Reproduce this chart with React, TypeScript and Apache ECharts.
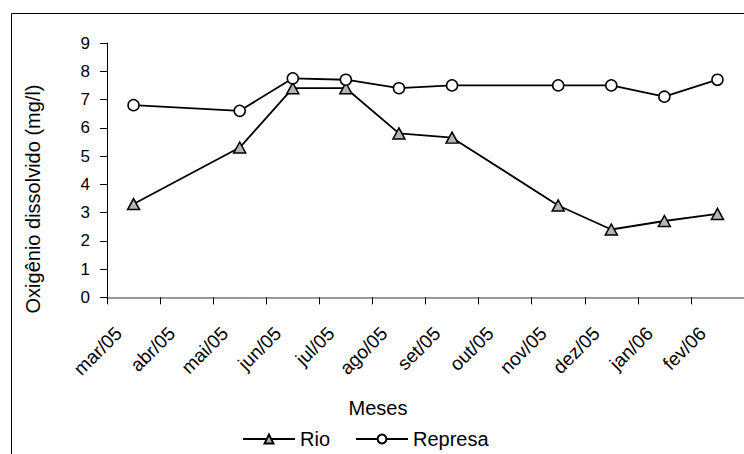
import React, { useEffect, useRef } from "react";
import * as echarts from "echarts";

// Monthly dissolved-oxygen readings (mg/l); null = no sample that month
const months = [
  "mar/05", "abr/05", "mai/05", "jun/05", "jul/05", "ago/05",
  "set/05", "out/05", "nov/05", "dez/05", "jan/06", "fev/06",
];
const rio = [3.3, null, 5.3, 7.4, 7.4, 5.8, 5.65, null, 3.25, 2.4, 2.7, 2.95];
const represa = [6.8, null, 6.6, 7.75, 7.7, 7.4, 7.5, null, 7.5, 7.5, 7.1, 7.7];
const yTicks = { min: 0, max: 9, interval: 1 };

const FONT = "'Liberation Sans', Arial, Helvetica, sans-serif";

export default function App() {
  const ref = useRef<HTMLDivElement>(null);

  useEffect(() => {
    if (!ref.current) return;
    const chart = echarts.init(ref.current, undefined, { renderer: "svg" });

    chart.setOption({
      animation: false,
      backgroundColor: "#ffffff",
      textStyle: { fontFamily: FONT, color: "#000" },
      grid: { left: 107, top: 43, width: 649, height: 254.3, containLabel: false },
      xAxis: {
        type: "category",
        data: months,
        boundaryGap: true,
        axisLine: { lineStyle: { color: "#777", width: 1.5 } },
        axisTick: { show: true, length: 7, lineStyle: { color: "#000", width: 1 } },
        axisLabel: {
          rotate: 45,
          interval: 0,
          margin: 18,
          fontSize: 19,
          fontFamily: FONT,
          color: "#000",
          padding: [0, 21, 0, 0],
        },
        splitLine: { show: false },
      },
      yAxis: {
        type: "value",
        min: yTicks.min,
        max: yTicks.max,
        interval: yTicks.interval,
        axisLine: { show: true, lineStyle: { color: "#000", width: 1 } },
        axisTick: { show: true, length: 7, lineStyle: { color: "#000", width: 1 } },
        axisLabel: { margin: 17, fontSize: 17, fontFamily: FONT, color: "#000" },
        splitLine: { show: false },
      },
      legend: {
        left: 237,
        top: 424,
        itemWidth: 52,
        itemHeight: 11,
        itemGap: 25,
        textStyle: { fontSize: 20, fontFamily: FONT, color: "#000" },
        data: ["Rio", "Represa"],
      },
      graphic: [
        {
          type: "line",
          shape: { x1: 11.5, y1: 13.5, x2: 744, y2: 13.5 },
          style: { stroke: "#000", lineWidth: 1 },
        },
        {
          type: "line",
          shape: { x1: 11.5, y1: 13.5, x2: 11.5, y2: 454 },
          style: { stroke: "#000", lineWidth: 1 },
        },
        {
          type: "text",
          x: 33,
          y: 199,
          rotation: Math.PI / 2,
          style: {
            text: "Oxigênio dissolvido (mg/l)",
            font: `20px ${FONT}`,
            fill: "#000",
            align: "center",
            verticalAlign: "middle",
          },
        },
        {
          type: "text",
          x: 378,
          y: 408,
          style: {
            text: "Meses",
            font: `20px ${FONT}`,
            fill: "#000",
            align: "center",
            verticalAlign: "middle",
          },
        },
      ],
      series: [
        {
          name: "Rio",
          type: "line",
          data: rio,
          connectNulls: true,
          symbol: "triangle",
          symbolSize: [12, 11],
          lineStyle: { color: "#000", width: 1.8 },
          itemStyle: { color: "#b4b4b4", borderColor: "#000", borderWidth: 1.5 },
          z: 3,
        },
        {
          name: "Represa",
          type: "line",
          data: represa,
          connectNulls: true,
          symbol: "circle",
          symbolSize: 11,
          lineStyle: { color: "#000", width: 1.8 },
          itemStyle: { color: "#ffffff", borderColor: "#000", borderWidth: 1.5 },
          z: 4,
        },
      ],
    });

    return () => chart.dispose();
  }, []);

  return (
    <div
      ref={ref}
      style={{ position: "fixed", left: 0, top: 0, width: 744, height: 454 }}
    />
  );
}
